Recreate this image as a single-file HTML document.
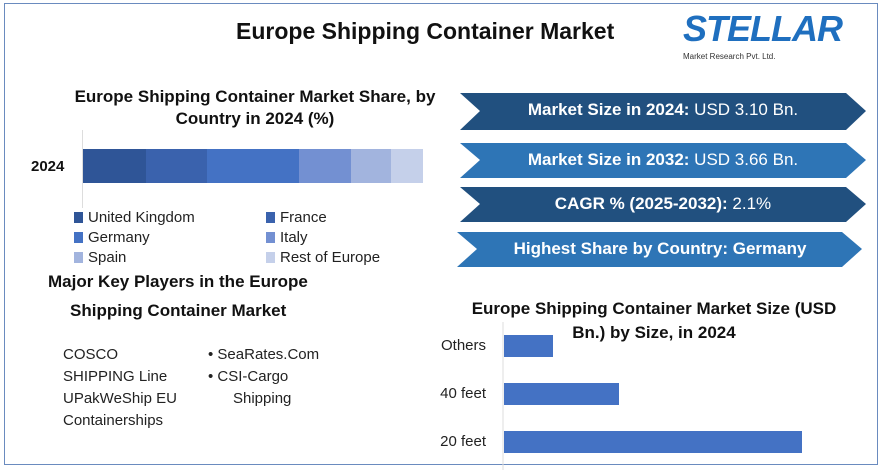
<!DOCTYPE html>
<html><head><meta charset="utf-8"><style>
body{margin:0;width:885px;height:472px;background:#fff;position:relative;overflow:hidden;font-family:"Liberation Sans",sans-serif;}
.a{position:absolute;}
.t{font-weight:bold;color:#111;}
.frame{position:absolute;left:4px;top:3px;width:874px;height:462px;border:1.5px solid #6a8bbf;box-sizing:border-box;}
.bn{position:absolute;color:#fff;font-size:17px;text-align:center;}
.lg{position:absolute;font-size:15px;color:#222;}
.lg i{display:inline-block;width:9px;height:11px;margin-right:5px;vertical-align:-1px;}
.kp{position:absolute;font-size:15px;color:#222;line-height:22px;}
</style></head><body>
<div class="frame"></div>
<div class="a t" style="left:236px;top:18px;font-size:23px;">Europe Shipping Container Market</div>
<div class="a" style="left:683px;top:8px;font-size:36px;font-weight:bold;color:#1f6fbf;letter-spacing:-1px;font-style:italic;">STELLAR</div>
<div class="a" style="left:683px;top:52px;font-size:8px;color:#333;">Market Research Pvt. Ltd.</div>

<div class="a t" style="left:60px;top:86px;width:390px;text-align:center;font-size:17px;line-height:22px;">Europe Shipping Container Market Share, by Country in 2024 (%)</div>
<div class="a" style="left:82px;top:130px;width:1px;height:78px;background:#ddd;"></div>
<div class="a t" style="left:31px;top:158px;font-size:15px;">2024</div>
<div class="a" style="left:83px;top:149px;height:34px;width:340px;display:flex;">
<div style="width:63px;background:#2f5597"></div><div style="width:61px;background:#3a62ad"></div><div style="width:92px;background:#4472c4"></div><div style="width:52px;background:#7390d2"></div><div style="width:40px;background:#a2b4de"></div><div style="width:32px;background:#c5d0ea"></div></div>
<div class="lg" style="left:74px;top:209px;"><i style="background:#2f5597"></i>United Kingdom</div>
<div class="lg" style="left:266px;top:209px;"><i style="background:#3a62ad"></i>France</div>
<div class="lg" style="left:74px;top:229px;"><i style="background:#4472c4"></i>Germany</div>
<div class="lg" style="left:266px;top:229px;"><i style="background:#7390d2"></i>Italy</div>
<div class="lg" style="left:74px;top:249px;"><i style="background:#a2b4de"></i>Spain</div>
<div class="lg" style="left:266px;top:249px;"><i style="background:#c5d0ea"></i>Rest of Europe</div>

<svg class="a" style="left:0;top:0" width="885" height="472">
<polygon points="460,93 846,93 866,111 846,130 460,130 480,111" fill="#21507f"/>
<polygon points="460,143 846,143 866,160 846,178 460,178 480,160" fill="#2e75b6"/>
<polygon points="460,187 846,187 866,204 846,222 460,222 480,204" fill="#21507f"/>
<polygon points="457,232 842,232 862,249 842,267 457,267 477,249" fill="#2e75b6"/>
<line x1="503" y1="322" x2="503" y2="470" stroke="#ddd"/>
<rect x="504" y="335" width="49" height="22" fill="#4472c4"/>
<rect x="504" y="383" width="115" height="22" fill="#4472c4"/>
<rect x="504" y="431" width="298" height="22" fill="#4472c4"/>
</svg>
<div class="bn" style="left:480px;top:100px;width:366px;"><b>Market Size in 2024:</b> USD 3.10 Bn.</div>
<div class="bn" style="left:480px;top:150px;width:366px;"><b>Market Size in 2032:</b> USD 3.66 Bn.</div>
<div class="bn" style="left:480px;top:194px;width:366px;"><b>CAGR % (2025-2032):</b> 2.1%</div>
<div class="bn" style="left:477px;top:239px;width:366px;"><b>Highest Share by Country: Germany</b></div>

<div class="a t" style="left:48px;top:272px;font-size:17px;">Major Key Players in the Europe</div>
<div class="a t" style="left:70px;top:301px;font-size:17px;">Shipping Container Market</div>
<div class="kp" style="left:63px;top:344px;">COSCO<br>SHIPPING Line<br>UPakWeShip EU<br>Containerships</div>
<div class="kp" style="left:208px;top:344px;">• SeaRates.Com<br>• CSI-Cargo<br>&nbsp;&nbsp;&nbsp;&nbsp;&nbsp;&nbsp;Shipping</div>

<div class="a t" style="left:462px;top:297px;width:384px;text-align:center;font-size:17px;line-height:24px;">Europe Shipping Container Market Size (USD Bn.) by Size, in 2024</div>
<div class="a" style="left:400px;top:337px;width:86px;text-align:right;font-size:15px;color:#222;">Others</div>
<div class="a" style="left:400px;top:385px;width:86px;text-align:right;font-size:15px;color:#222;">40 feet</div>
<div class="a" style="left:400px;top:433px;width:86px;text-align:right;font-size:15px;color:#222;">20 feet</div>
</body></html>
